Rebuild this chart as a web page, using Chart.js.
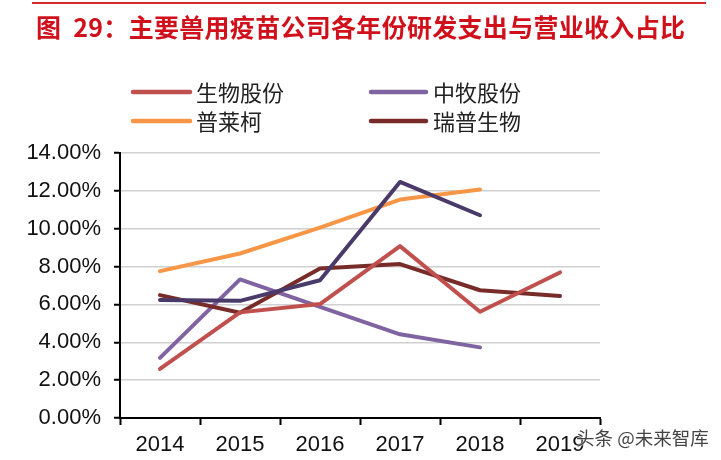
<!DOCTYPE html>
<html>
<head>
<meta charset="utf-8">
<script src="https://cdn.jsdelivr.net/npm/chart.js@4.4.0/dist/chart.umd.min.js"></script>
<style>
    html, body { margin: 0; padding: 0; background: #fff; }
    #wrap { position: relative; width: 721px; height: 460px; overflow: hidden; }
    #rule { position: absolute; left: 32px; top: 2px; width: 674px; height: 2px; background: #d42a2a; }
    #title {
        position: absolute; left: 36px; top: 8px; white-space: nowrap;
        font: bold 25px "Noto Sans CJK SC", sans-serif; color: #d0101b;
        letter-spacing: 0.3px;
    }
    #mark {
        position: absolute; left: 576px; top: 424px; white-space: nowrap;
        font: 18.5px "Noto Sans CJK SC", sans-serif; color: #444;
        text-shadow: 0 0 2px #fff, 0 0 2px #fff;
    }
    canvas { position: absolute; left: 0; top: 0; }
</style>
</head>
<body>
<div id="wrap">
    <canvas id="chart" width="721" height="460"></canvas>
    <div id="rule"></div>
    <div id="title">图&nbsp;&nbsp;29：主要兽用疫苗公司各年份研发支出与营业收入占比</div>
    <div id="mark">头条 @未来智库</div>
</div>
<script>
// values (percent)
const years = ['2014', '2015', '2016', '2017', '2018', '2019'];
const shengwu = [2.59, 5.58, 6.02, 9.08, 5.61, 7.69];
const zhongmu = [3.18, 7.32, 5.87, 4.42, 3.73, null];
const pulaike = [7.76, 8.69, 10.06, 11.54, 12.07, null];
const ruipu = [6.49, 5.56, 7.90, 8.13, 6.75, 6.45];
const unlabeled = [6.23, 6.19, 7.28, 12.47, 10.71, null]; // line drawn without a legend entry
const yMin = 0, yMax = 14, yStep = 2;

const legendNames = ['生物股份', '中牧股份', '普莱柯', '瑞普生物'];

function line(label, data, color) {
    return {
        label: label,
        data: data,
        borderColor: color,
        backgroundColor: color,
        borderWidth: 4,
        pointRadius: 0,
        tension: 0,
        borderCapStyle: 'round',
        borderJoinStyle: 'round',
        spanGaps: false
    };
}

// 2 x 2 legend above the plot
const legendPlugin = {
    id: 'gridLegend',
    afterDraw(chart) {
        const ctx = chart.ctx;
        const slots = [
            { x0: 133, x1: 190, tx: 196, y: 92 },
            { x0: 371, x1: 426, tx: 433, y: 92 },
            { x0: 133, x1: 190, tx: 196, y: 121 },
            { x0: 371, x1: 426, tx: 433, y: 121 }
        ];
        ctx.save();
        ctx.font = '22px "Noto Sans CJK SC", sans-serif';
        ctx.textBaseline = 'middle';
        legendNames.forEach((name, i) => {
            const ds = chart.data.datasets.find(d => d.label === name);
            const s = slots[i];
            ctx.strokeStyle = ds.borderColor;
            ctx.lineWidth = 4.5;
            ctx.lineCap = 'round';
            ctx.beginPath();
            ctx.moveTo(s.x0, s.y);
            ctx.lineTo(s.x1, s.y);
            ctx.stroke();
            ctx.fillStyle = '#222';
            ctx.fillText(name, s.tx, s.y + 1);
        });
        ctx.restore();
    }
};

new Chart(document.getElementById('chart').getContext('2d'), {
    type: 'line',
    data: {
        labels: years,
        datasets: [
            line('其他', unlabeled, '#4a3a6a'),
            line('生物股份', shengwu, '#c0504d'),
            line('瑞普生物', ruipu, '#772c2a'),
            line('普莱柯', pulaike, '#f79646'),
            line('中牧股份', zhongmu, '#8064a2')
        ]
    },
    options: {
        responsive: false,
        animation: false,
        layout: { padding: { top: 153, right: 121, left: 0, bottom: 0 } },
        plugins: {
            legend: { display: false },
            title: { display: false },
            tooltip: { enabled: false }
        },
        scales: {
            x: {
                offset: true,
                afterFit(scale) { scale.height = 42; },
                border: { display: true, color: '#000', width: 2 },
                grid: {
                    offset: true,
                    drawOnChartArea: false,
                    drawTicks: true,
                    tickLength: 7,
                    tickColor: '#000',
                    tickWidth: 2
                },
                ticks: {
                    color: '#111',
                    padding: 7,
                    maxRotation: 0,
                    font: { family: '"Liberation Sans", Arial, sans-serif', size: 22 }
                }
            },
            y: {
                min: yMin,
                max: yMax,
                afterFit(scale) { scale.width = 120; },
                border: { display: true, color: '#000', width: 2 },
                grid: {
                    color: '#d0d0d0',
                    lineWidth: 1.5,
                    drawTicks: true,
                    tickLength: 6,
                    tickColor: '#000',
                    tickWidth: 2
                },
                ticks: {
                    stepSize: yStep,
                    color: '#111',
                    padding: 13,
                    font: { family: '"Liberation Sans", Arial, sans-serif', size: 22 },
                    callback: v => v.toFixed(2) + '%'
                }
            }
        }
    },
    plugins: [legendPlugin]
});
</script>
</body>
</html>
